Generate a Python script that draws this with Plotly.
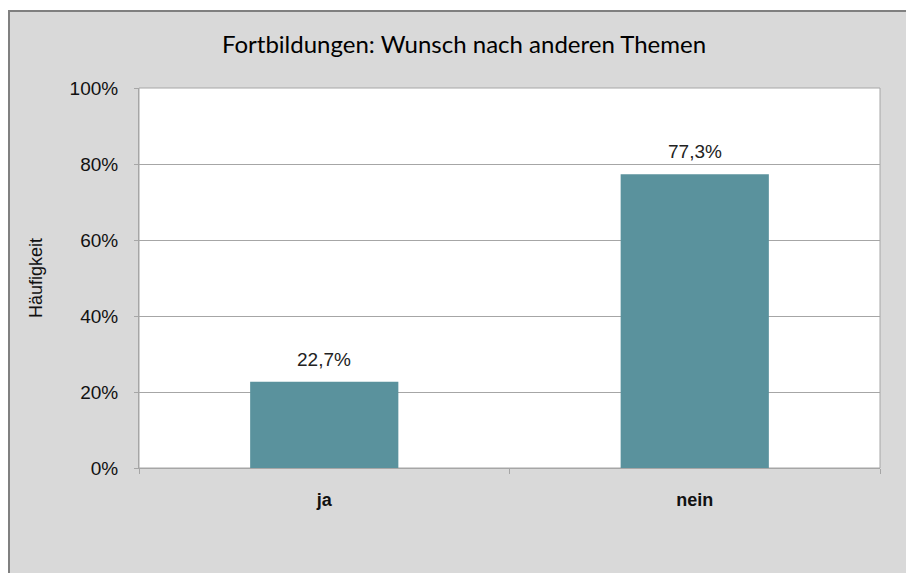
import plotly.graph_objects as go

categories = ["ja", "nein"]
values = [22.7, 77.3]
title_text = "Fortbildungen: Wunsch nach anderen Themen"
y_title = "Häufigkeit"
tick_vals = [0, 20, 40, 60, 80, 100]
tick_text = ["0%", "20%", "40%", "60%", "80%", "100%"]

W, H = 906, 573
L, R, T, B = 139, W - 880, 88, H - 468
pw, ph = W - L - R, H - T - B

def px_to_paper_x(px):
    return (px - L) / pw

def px_to_paper_y(py):
    return (H - B - py) / ph

FONT = "Liberation Sans, Arial, sans-serif"

fig = go.Figure()
fig.add_trace(go.Bar(
    x=categories, y=values, width=0.4,
    marker=dict(color="#5A929D", line=dict(width=0)),
    hoverinfo="skip",
))

for c, v in zip(categories, values):
    fig.add_annotation(
        x=c, y=v, text=f"{v:.1f}".replace(".", ",") + "%",
        showarrow=False, yanchor="bottom", yshift=10,
        font=dict(family=FONT, size=19, color="#222222"),
    )

shapes = [
    dict(type="rect", xref="paper", yref="paper", layer="below",
         x0=px_to_paper_x(9), x1=px_to_paper_x(W + 30),
         y0=px_to_paper_y(H + 30), y1=px_to_paper_y(11),
         fillcolor="#D9D9D9", line=dict(color="#808080", width=2)),
    dict(type="rect", xref="paper", yref="paper", layer="below",
         x0=0, x1=1, y0=0, y1=1,
         fillcolor="#FFFFFF", line=dict(color="#A6A6A6", width=1)),
]

fig.update_layout(
    width=W, height=H,
    margin=dict(l=L, r=R, t=T, b=B, pad=0),
    paper_bgcolor="#FFFFFF",
    plot_bgcolor="#FFFFFF",
    showlegend=False,
    shapes=shapes,
    title=dict(
        text=title_text, x=px_to_paper_x(464), xref="paper", xanchor="center",
        y=1 - 45 / H, yanchor="middle",
        font=dict(family="Lato, Open Sans, sans-serif", size=24, color="#000000"),
    ),
)

fig.update_xaxes(
    showgrid=False, showline=True, linecolor="#A6A6A6", linewidth=1,
    ticks="outside", tickson="boundaries", ticklen=5, tickcolor="#A6A6A6",
    tickfont=dict(family=FONT, size=18, color="#111111", weight="bold"),
    ticklabelstandoff=15,
    fixedrange=True,
)
fig.update_yaxes(
    range=[0, 100], tickvals=tick_vals, ticktext=tick_text,
    showgrid=True, gridcolor="#A6A6A6", gridwidth=1,
    showline=True, linecolor="#A6A6A6", linewidth=1,
    ticks="outside", ticklen=4, tickcolor="#A6A6A6",
    tickfont=dict(family=FONT, size=19, color="#111111"),
    ticklabelstandoff=12,
    zeroline=False,
    title=dict(text=y_title, standoff=22,
               font=dict(family=FONT, size=18, color="#111111")),
    fixedrange=True,
)

fig.write_html(
    "out.html",
    config={"displayModeBar": False},
    post_script="document.body.style.margin='0px';document.body.style.overflow='hidden';",
)
